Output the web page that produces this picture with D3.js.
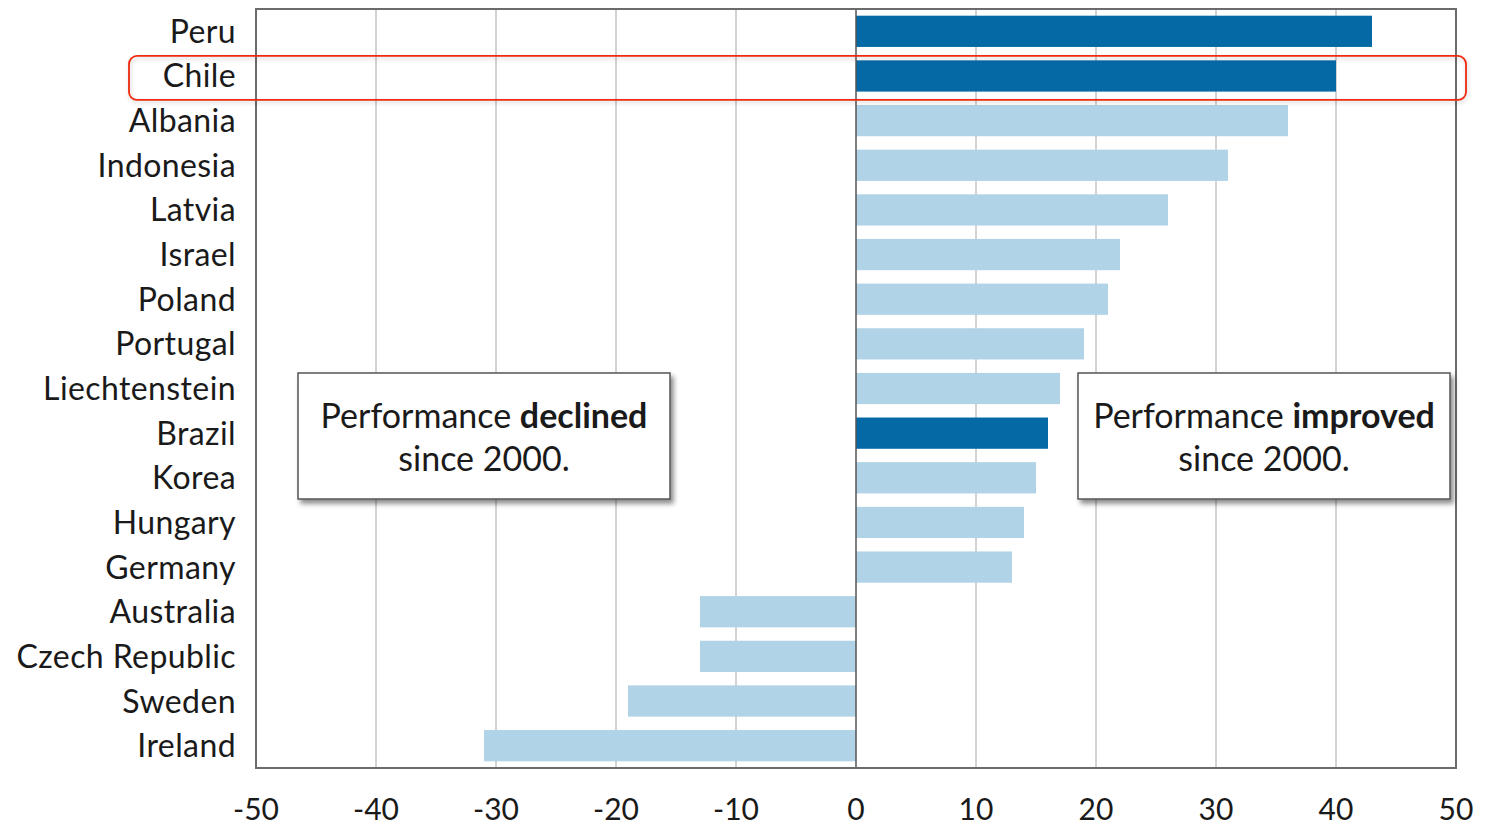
<!DOCTYPE html>
<html>
<head>
<meta charset="utf-8">
<script src="https://cdn.jsdelivr.net/npm/d3@7"></script>
<style>
body { margin: 0; background: #fff; }
text { font-family: "Lato", "Noto Sans", sans-serif; fill: #1a1a1a; }
</style>
</head>
<body>
<script>
const countries = ["Peru","Chile","Albania","Indonesia","Latvia","Israel","Poland","Portugal",
  "Liechtenstein","Brazil","Korea","Hungary","Germany","Australia","Czech Republic","Sweden","Ireland"];
const change = [43,40,36,31,26,22,21,19,17,16,15,14,13,-13,-13,-19,-31];
const highlighted = ["Peru","Chile","Brazil"];
const xTicks = [-50,-40,-30,-20,-10,0,10,20,30,40,50];

const W = 1490, H = 826;
const plotL = 256, plotR = 1456, plotT = 9, plotB = 768;

const svg = d3.select("body").append("svg").attr("width",W).attr("height",H);

const defs = svg.append("defs");
const f = defs.append("filter").attr("id","shadow").attr("x","-10%").attr("y","-10%").attr("width","130%").attr("height","140%");
f.append("feDropShadow").attr("dx",3).attr("dy",4).attr("stdDeviation",2.5).attr("flood-color","#000").attr("flood-opacity",0.45);
const f2 = defs.append("filter").attr("id","soft").attr("x","-5%").attr("y","-30%").attr("width","110%").attr("height","160%");
f2.append("feDropShadow").attr("dx",1).attr("dy",2).attr("stdDeviation",2).attr("flood-color","#000").attr("flood-opacity",0.2);

const x = d3.scaleLinear().domain([-50,50]).range([plotL,plotR]);
const y = d3.scaleBand().domain(countries).range([plotT,plotB]).paddingInner(0.3).paddingOuter(0.15);

// gridlines
svg.append("g").selectAll("line").data(xTicks.filter(t => t > -50 && t < 50 && t !== 0)).join("line")
  .attr("x1",d=>x(d)).attr("x2",d=>x(d)).attr("y1",plotT).attr("y2",plotB)
  .attr("stroke","#c4c4c4").attr("stroke-width",1.5);

// bars
svg.append("g").selectAll("rect").data(countries).join("rect")
  .attr("x",(d,i)=>x(Math.min(0,change[i])))
  .attr("width",(d,i)=>Math.abs(x(change[i])-x(0)))
  .attr("y",d=>y(d))
  .attr("height",y.bandwidth())
  .attr("fill",d=>highlighted.includes(d) ? "#0569a6" : "#b1d3e7");

// zero line
svg.append("line").attr("x1",x(0)).attr("x2",x(0)).attr("y1",plotT).attr("y2",plotB)
  .attr("stroke","#555").attr("stroke-width",1.5);

// frame
svg.append("rect").attr("x",plotL).attr("y",plotT).attr("width",plotR-plotL).attr("height",plotB-plotT)
  .attr("fill","none").attr("stroke","#6b6b6b").attr("stroke-width",2);

// country labels
svg.append("g").selectAll("text").data(countries).join("text")
  .attr("x",236).attr("y",d=>y(d)+y.bandwidth()/2)
  .attr("dy","0.36em").attr("text-anchor","end")
  .attr("font-size",32).attr("letter-spacing",0.4).text(d=>d);

// x axis labels
svg.append("g").selectAll("text").data(xTicks).join("text")
  .attr("x",d=>x(d)).attr("y",809).attr("dy","0.36em").attr("text-anchor","middle")
  .attr("font-size",30).text(d=>d);

// highlight box around Chile
const cy = y("Chile") + y.bandwidth()/2;
svg.append("rect").attr("x",129).attr("y",cy-20).attr("width",1337).attr("height",44)
  .attr("rx",8).attr("fill","none").attr("stroke","#f0290f").attr("stroke-width",1.8)
  .attr("filter","url(#soft)");

// annotation boxes
const notes = [
  {x0:-46.5, x1:-15.5, bold:"declined"},
  {x0:18.5, x1:49.5, bold:"improved"}
];
notes.forEach(n => {
  const g = svg.append("g");
  const bx = x(n.x0), bw = x(n.x1)-x(n.x0);
  g.append("rect").attr("x",bx).attr("y",373).attr("width",bw).attr("height",126)
    .attr("fill","#fff").attr("stroke","#555").attr("stroke-width",1.5).attr("filter","url(#shadow)");
  const t = g.append("text").attr("x",bx+bw/2).attr("y",428).attr("text-anchor","middle").attr("font-size",34);
  t.append("tspan").text("Performance ");
  t.append("tspan").attr("font-weight","bold").text(n.bold);
  g.append("text").attr("x",bx+bw/2).attr("y",471).attr("text-anchor","middle").attr("font-size",34).text("since 2000.");
});
</script>
</body>
</html>
